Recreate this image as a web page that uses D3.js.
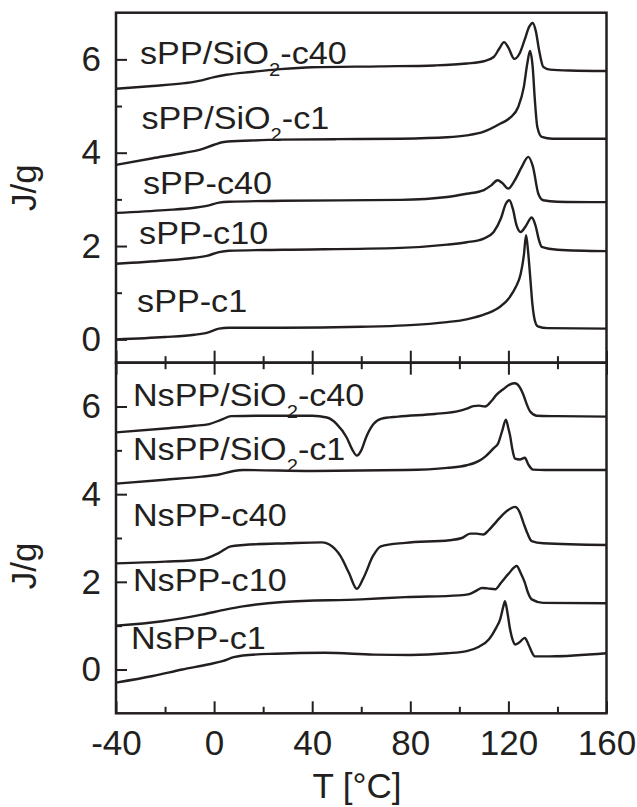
<!DOCTYPE html>
<html>
<head>
<meta charset="utf-8">
<script src="https://cdn.jsdelivr.net/npm/d3@7"></script>
<style>
  html, body { margin: 0; padding: 0; background: #fff; }
  text { font-family: "Liberation Sans", Arial, sans-serif; fill: #231f20; }
</style>
</head>
<body>
<div id="viz"></div>
<script>
// ---- data: [T (°C), heat flow (J/g, shifted)] ----
const sPP_SiO2_c40 = [[-40,5.37],[-25,5.43],[-12,5.49],[-5,5.55],[0,5.62],[5,5.67],[15,5.73],[27,5.79],[40,5.83],[68,5.85],[90,5.87],[103,5.91],[110,5.96],[114,6.05],[116.5,6.25],[118.2,6.37],[120,6.25],[122.4,6.01],[124.5,6.12],[126.5,6.4],[128.5,6.7],[129.9,6.78],[131.2,6.6],[132.5,6.2],[134.2,5.84],[137,5.78],[145,5.76],[160,5.75]];
const sPP_SiO2_c1 = [[-40,3.74],[-25,3.88],[-12,4.0],[-6,4.06],[0,4.17],[4,4.23],[15,4.26],[27,4.28],[50,4.29],[76,4.3],[95,4.33],[103,4.37],[110,4.45],[116.6,4.62],[120.7,4.75],[124,4.98],[126.3,5.41],[127.7,5.91],[128.8,6.18],[129.9,5.84],[130.8,5.12],[131.8,4.55],[133.6,4.34],[138,4.3],[160,4.3]];
const sPP_c40 = [[-40,2.71],[-20,2.77],[-8,2.82],[-3,2.86],[2,2.93],[6,2.95],[28,2.97],[76,2.99],[95,3.05],[103,3.12],[110,3.2],[113,3.3],[115.6,3.41],[117.5,3.35],[119.9,3.23],[122.5,3.4],[125.5,3.7],[128.1,3.91],[130,3.7],[132.2,3.12],[134.2,2.98],[140,2.95],[160,2.94]];
const sPP_c10 = [[-40,1.62],[-20,1.69],[-8,1.75],[-3,1.79],[2,1.87],[6,1.9],[28,1.92],[76,1.96],[95,2.03],[103,2.08],[110,2.16],[114,2.3],[117,2.6],[118.9,2.9],[120.4,2.98],[121.8,2.8],[123.3,2.45],[125,2.3],[127,2.42],[129.5,2.61],[131,2.45],[132.5,2.12],[133.6,1.98],[140,1.92],[160,1.89]];
const sPP_c1 = [[-40,0],[-20,0.05],[-8,0.1],[-3,0.14],[2,0.23],[6,0.25],[28,0.25],[60,0.27],[78,0.3],[95,0.37],[103,0.43],[111,0.55],[116.6,0.7],[120.5,0.9],[123,1.12],[125,1.4],[126.3,1.8],[127.2,2.23],[128,1.9],[128.8,1.4],[129.8,0.75],[130.8,0.4],[132,0.28],[136,0.24],[160,0.23]];

const NsPP_SiO2_c40 = [[-40,5.41],[-20,5.5],[-8,5.56],[-2,5.6],[3,5.7],[7,5.78],[20,5.79],[40,5.79],[46,5.75],[50,5.6],[54,5.3],[56.5,5.0],[58.2,4.88],[60,5.0],[62,5.3],[65,5.6],[68,5.72],[75,5.77],[90,5.83],[100,5.9],[103,5.95],[105.7,6.01],[108,6.02],[110.5,6.0],[113,6.12],[115.2,6.27],[118,6.4],[120.5,6.5],[122.7,6.53],[124.5,6.45],[126.1,6.27],[127.5,6.05],[128.8,5.89],[131.5,5.79],[140,5.78],[160,5.77]];
const NsPP_SiO2_c1 = [[-40,4.24],[-20,4.33],[-5,4.4],[2,4.45],[8,4.53],[12,4.55],[40,4.53],[78,4.55],[95,4.6],[103,4.66],[108,4.76],[110.8,4.87],[114,5.05],[115.9,5.17],[117.5,5.45],[119,5.7],[120,5.5],[120.7,5.33],[121.7,5.0],[122.7,4.81],[124.7,4.79],[126.7,4.83],[128.1,4.68],[130,4.56],[135,4.55],[160,4.55]];
const NsPP_c40 = [[-40,2.42],[-20,2.46],[-5,2.51],[2,2.66],[6.8,2.81],[12,2.84],[30,2.88],[44,2.9],[47,2.85],[51.5,2.59],[55,2.2],[58.2,1.84],[61,2.1],[64.8,2.59],[68,2.81],[78,2.89],[96,2.95],[101,3.0],[104.4,3.1],[107,3.1],[109.8,3.08],[112,3.18],[115.2,3.38],[119,3.6],[122.7,3.71],[124.5,3.6],[126.1,3.35],[127.8,3.1],[129.5,2.93],[134.2,2.88],[160,2.84]];
const NsPP_c10 = [[-40,1.0],[-21,1.1],[-5,1.25],[5,1.37],[11.7,1.44],[28,1.54],[60,1.6],[78,1.65],[100,1.69],[104,1.72],[107,1.8],[109.2,1.86],[111.5,1.85],[114.6,1.83],[117,1.98],[120,2.18],[123.4,2.36],[125,2.2],[126.7,1.98],[128,1.75],[129.5,1.6],[134.2,1.52],[160,1.51]];
const NsPP_c1 = [[-40,-0.3],[-25,-0.15],[-13,0],[-2,0.12],[3.4,0.19],[8,0.28],[11.7,0.32],[25,0.36],[45,0.38],[65,0.34],[80,0.33],[95,0.37],[103,0.42],[108,0.52],[112.1,0.69],[115,0.95],[116.6,1.14],[118,1.45],[118.6,1.56],[119.6,1.3],[120.7,0.91],[121.7,0.68],[122.7,0.57],[124.5,0.62],[126.7,0.72],[127.8,0.62],[128.8,0.49],[130.8,0.3],[137,0.3],[160,0.37]];

// curve labels: [main text, subscript, tail]
const topNames = [['sPP/SiO', '2', '-c40'], ['sPP/SiO', '2', '-c1'], ['sPP-c40', '', ''], ['sPP-c10', '', ''], ['sPP-c1', '', '']];
const bottomNames = [['NsPP/SiO', '2', '-c40'], ['NsPP/SiO', '2', '-c1'], ['NsPP-c40', '', ''], ['NsPP-c10', '', ''], ['NsPP-c1', '', '']];
// label anchor in data units [T, J/g]
const topLabelAt = [[-30.2, 5.91], [-29.6, 4.51], [-29, 3.12], [-30.6, 2.05], [-31.4, 0.585]];
const bottomLabelAt = [[-33.1, 6.01], [-33.1, 4.79], [-33.1, 3.27], [-33.1, 1.79], [-33.9, 0.46]];

const xTicks = [-40, 0, 40, 80, 120, 160];
const xMinor = [-20, 20, 60, 100, 140];
const yTicks = [0, 2, 4, 6];
const yMinor = [1, 3, 5];

// ---- layout ----
const canvasWidth = 637;
const canvasHeight = 807;
const plotLeft = 116, plotRight = 606.5, plotTop = 12.7, plotSep = 362.7, plotBottom = 713.3;
const ink = '#231f20';

const x = d3.scaleLinear().domain([-40, 160]).range([plotLeft, plotRight]);
const yTop = d3.scaleLinear().domain([-0.5, 7]).range([plotSep, plotTop]);
const yBot = d3.scaleLinear().domain([-1, 7]).range([plotBottom, plotSep]);

const plain = (d) => String(d);  // keep ASCII hyphen for negatives

const canvas = d3.select('#viz')
  .append('svg')
  .attr('width', canvasWidth)
  .attr('height', canvasHeight);

canvas.append('rect').attr('width', canvasWidth).attr('height', canvasHeight).attr('fill', '#fff');

const panels = [
  { y: yTop, series: [sPP_SiO2_c40, sPP_SiO2_c1, sPP_c40, sPP_c10, sPP_c1], names: topNames, labelAt: topLabelAt },
  { y: yBot, series: [NsPP_SiO2_c40, NsPP_SiO2_c1, NsPP_c40, NsPP_c10, NsPP_c1], names: bottomNames, labelAt: bottomLabelAt }
];

const styleAxis = (g) => {
  g.select('.domain').remove();
  g.selectAll('line').attr('stroke', ink).attr('stroke-width', 2);
  g.selectAll('text')
    .attr('font-size', 35)
    .attr('font-family', '"Liberation Sans", Arial, sans-serif')
    .attr('fill', ink);
};

panels.forEach((p) => {
  const line = d3.line()
    .x((d) => x(d[0]))
    .y((d) => p.y(d[1]))
    .curve(d3.curveMonotoneX);

  canvas.append('g')
    .selectAll('path').data(p.series)
    .enter().append('path')
      .attr('d', line)
      .attr('fill', 'none')
      .attr('stroke', ink)
      .attr('stroke-width', 2.4)
      .attr('stroke-linejoin', 'round');

  // y axis, major and minor ticks pointing inward
  canvas.append('g')
    .attr('transform', `translate(${plotLeft},0)`)
    .call(d3.axisLeft(p.y).tickValues(yTicks).tickSize(-11).tickPadding(15).tickFormat(plain))
    .call(styleAxis);
  canvas.append('g')
    .attr('transform', `translate(${plotLeft},0)`)
    .call(d3.axisLeft(p.y).tickValues(yMinor).tickSize(-6).tickFormat(''))
    .call(styleAxis);

  // curve labels
  const labels = canvas.append('g')
    .selectAll('text').data(p.names)
    .enter().append('text')
      .attr('transform', (d, i) => `translate(${x(p.labelAt[i][0])},${p.y(p.labelAt[i][1])}) scale(1.12,1)`)
      .attr('font-size', 30.5);
  labels.append('tspan').text((d) => d[0]);
  labels.append('tspan').attr('font-size', 18).attr('dy', 12).text((d) => d[1]);
  labels.append('tspan').attr('dy', (d) => d[1] ? -12 : 0).text((d) => d[2]);
});

// x ticks on the shared middle line
[[d3.axisBottom, xTicks, -12], [d3.axisBottom, xMinor, -6.5], [d3.axisTop, xTicks, -12], [d3.axisTop, xMinor, -6.5]]
  .forEach(([axis, vals, size]) => {
    canvas.append('g')
      .attr('transform', `translate(0,${plotSep})`)
      .call(axis(x).tickValues(vals).tickSize(size).tickFormat(''))
      .call(styleAxis);
  });

// bottom x axis
canvas.append('g')
  .attr('transform', `translate(0,${plotBottom})`)
  .call(d3.axisBottom(x).tickValues(xTicks).tickSize(-12).tickPadding(17).tickFormat(plain))
  .call(styleAxis);
canvas.append('g')
  .attr('transform', `translate(0,${plotBottom})`)
  .call(d3.axisBottom(x).tickValues(xMinor).tickSize(-6.5).tickFormat(''))
  .call(styleAxis);

// frames
[[plotTop, plotSep], [plotSep, plotBottom]].forEach(([y0, y1]) => {
  canvas.append('rect')
    .attr('x', plotLeft).attr('y', y0)
    .attr('width', plotRight - plotLeft).attr('height', y1 - y0)
    .attr('fill', 'none')
    .attr('stroke', ink)
    .attr('stroke-width', 2.5);
});

// axis titles
canvas.append('text')
  .attr('x', 357).attr('y', 798)
  .attr('text-anchor', 'middle')
  .attr('font-size', 35)
  .text('T [°C]');

[187.7, 566].forEach((cy) => {
  canvas.append('text')
    .attr('transform', `translate(36,${cy}) rotate(-90)`)
    .attr('text-anchor', 'middle')
    .attr('font-size', 35)
    .text('J/g');
});
</script>
</body>
</html>
